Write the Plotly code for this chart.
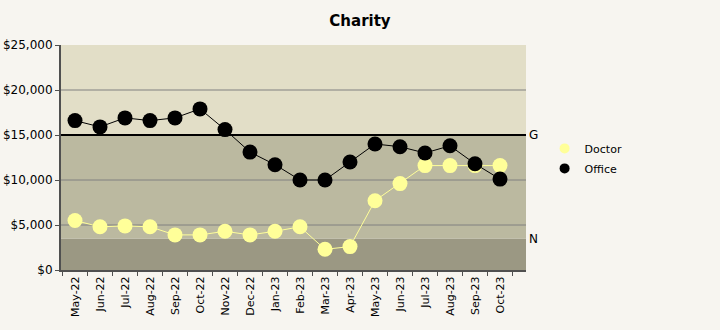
import plotly.graph_objects as go

months = ["May-22", "Jun-22", "Jul-22", "Aug-22", "Sep-22", "Oct-22", "Nov-22", "Dec-22",
          "Jan-23", "Feb-23", "Mar-23", "Apr-23", "May-23", "Jun-23", "Jul-23", "Aug-23",
          "Sep-23", "Oct-23"]
doctor = [5500, 4800, 4900, 4800, 3900, 3900, 4300, 3900, 4300, 4800, 2300, 2600,
          7700, 9600, 11600, 11600, 11600, 11600]
office = [16600, 15900, 16900, 16600, 16900, 17900, 15600, 13100, 11700, 10000, 10000, 12000,
          14000, 13700, 13000, 13800, 11800, 10100]
goal_value = 15000
norm_value = 3500
y_ticks = [0, 5000, 10000, 15000, 20000, 25000]
y_tick_labels = ["$0", "$5,000", "$10,000", "$15,000", "$20,000", "$25,000"]

FONT = "DejaVu Sans"
fig = go.Figure()

fig.add_trace(go.Scatter(x=months, y=doctor, mode="lines+markers", name="Doctor",
                         line=dict(color="#FFFF99", width=1),
                         marker=dict(color="#FFFF99", size=15), showlegend=False))
fig.add_trace(go.Scatter(x=months, y=office, mode="lines+markers", name="Office",
                         line=dict(color="#000000", width=1),
                         marker=dict(color="#000000", size=15), showlegend=False))
# legend-only entries (markers only)
fig.add_trace(go.Scatter(x=[None], y=[None], mode="markers", name="Doctor", legendgroup="d",
                         marker=dict(color="#FFFF99", size=10)))
fig.add_trace(go.Scatter(x=[None], y=[None], mode="markers", name="Office", legendgroup="o",
                         marker=dict(color="#000000", size=10)))

shapes = [
    dict(type="rect", xref="paper", yref="y", x0=0, x1=1, y0=0, y1=norm_value,
         fillcolor="#9B9883", line_width=0, layer="below"),
    dict(type="rect", xref="paper", yref="y", x0=0, x1=1, y0=norm_value, y1=goal_value,
         fillcolor="#BBB9A0", line_width=0, layer="below"),
    dict(type="rect", xref="paper", yref="y", x0=0, x1=1, y0=goal_value, y1=25000,
         fillcolor="#E2DEC7", line_width=0, layer="below"),
]
for v in [5000, 10000, 20000]:
    shapes.append(dict(type="line", xref="paper", yref="y", x0=0, x1=1, y0=v, y1=v,
                       line=dict(color="#808080", width=1), layer="below"))
shapes.append(dict(type="line", xref="paper", yref="y", x0=0, x1=1, y0=goal_value, y1=goal_value,
                   line=dict(color="#000000", width=2), layer="below"))

annotations = [
    dict(text="G", xref="paper", yref="y", x=1.002, y=goal_value, xanchor="left",
         yanchor="middle", showarrow=False, font=dict(family=FONT, size=12, color="#000")),
    dict(text="N", xref="paper", yref="y", x=1.002, y=norm_value, xanchor="left",
         yanchor="middle", showarrow=False, font=dict(family=FONT, size=12, color="#000")),
]

fig.update_layout(
    width=720, height=330,
    paper_bgcolor="#F7F5F0", plot_bgcolor="rgba(0,0,0,0)",
    margin=dict(l=61, r=194, t=45, b=60),
    title=dict(text="<b>Charity</b>", x=0.5, xanchor="center", y=0.937, yanchor="middle",
               font=dict(family=FONT, size=15, color="#000")),
    font=dict(family=FONT, size=11, color="#000"),
    shapes=shapes, annotations=annotations,
    legend=dict(x=1.04, y=0.605, xanchor="left", yanchor="top", bgcolor="rgba(0,0,0,0)",
                font=dict(family=FONT, size=11), itemwidth=30, tracegroupgap=1),
    xaxis=dict(type="category", categoryorder="array", categoryarray=months,
               range=[-0.56, 18.04], tickangle=-90, showgrid=False, automargin=False,
               showline=True, linecolor="#505050", linewidth=2,
               ticks="outside", tickson="boundaries", ticklen=4, tickcolor="#505050",
               tickfont=dict(family=FONT, size=11), zeroline=False),
    yaxis=dict(range=[0, 25000], tickvals=y_ticks, ticktext=y_tick_labels, automargin=False,
               showgrid=False, zeroline=False, showline=True, linecolor="#505050",
               linewidth=2, ticks="outside", ticklen=4, tickcolor="#505050",
               tickfont=dict(family=FONT, size=12)),
)

fig.write_html("out.html")
